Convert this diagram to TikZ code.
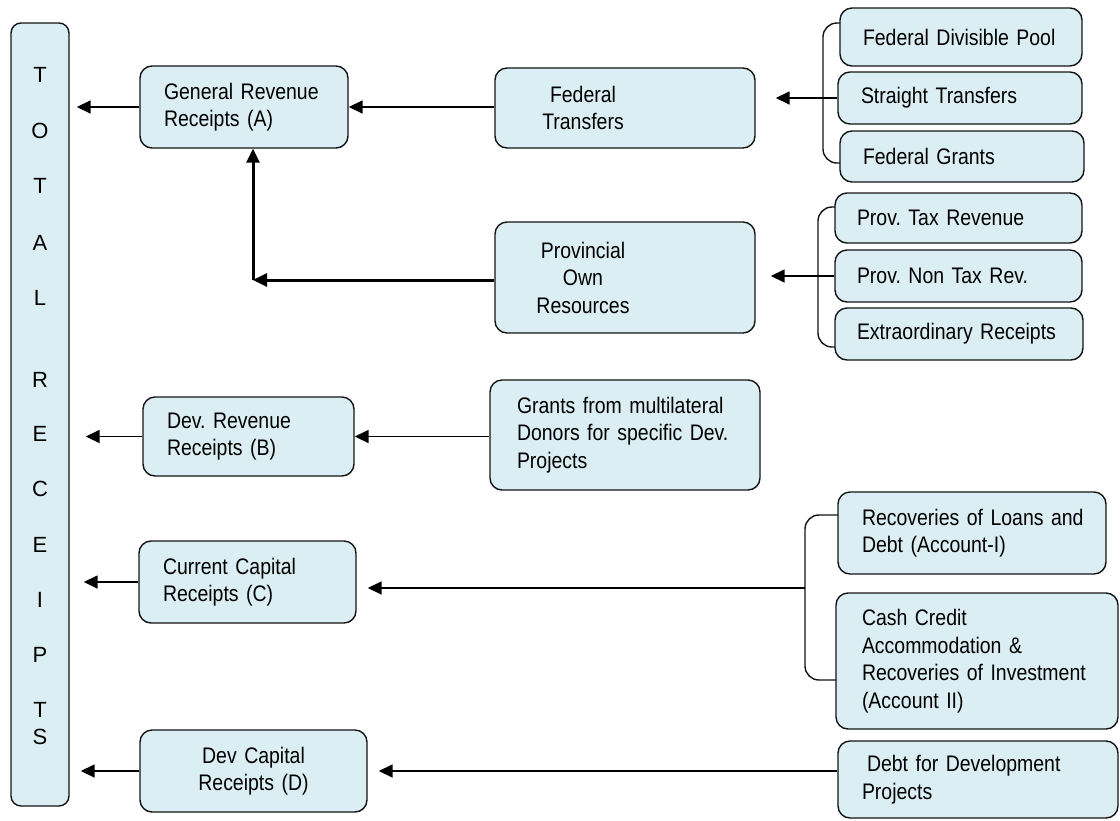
\documentclass[tikz,border=0pt]{standalone}
\usepackage{fontspec}
\setmainfont[FakeStretch=0.865]{Liberation Sans}
\newfontfamily\plainfont{Liberation Sans}
\usetikzlibrary{arrows.meta}
\definecolor{boxfill}{RGB}{219,238,244}
\definecolor{edge}{RGB}{20,20,20}
\frenchspacing
\newcommand{\boxfont}{\fontsize{22.5}{27.5}\selectfont}
\begin{document}
\begin{tikzpicture}[x=1pt,y=-1pt,
  box/.style={draw=edge, fill=boxfill, line width=1.4pt, rounded corners=12pt,
    inner ysep=0pt, font=\boxfont, align=left},
  letter/.style={inner sep=0pt, font=\plainfont\fontsize{22}{24}\selectfont},
  arr/.style={draw=black, line width=1.6pt, -{Triangle[length=14pt,width=13pt]}},
  thickarr/.style={arr, line width=3pt},
  brace/.style={draw=edge, line width=1.4pt, rounded corners=14pt}]
\fill[white] (0,0) rectangle (1120,820);
\useasboundingbox (0,0) rectangle (1120,820);

% TOTAL RECEIPTS column
\node[box, rounded corners=10pt, minimum height=783pt, text width=50pt, inner xsep=4pt] (total) at (40,414.5) {};
\foreach \l/\y [count=\i] in {T/75,O/131,T/186,A/243,L/298,R/380,E/434,C/489,E/545,I/600,P/655,T/710,S/737}
  \node[letter] (t\i) at (40,\y) {\l};

% left column
\node[box, minimum height=82pt, text width=160pt, inner xsep=24pt] (grr) at (244,107) {General Revenue\\Receipts (A)};
\node[box, minimum height=79pt, text width=163pt, inner xsep=24pt] (drr) at (248.5,436.5) {Dev. Revenue\\Receipts (B)};
\node[box, minimum height=82pt, text width=169pt, inner xsep=24pt] (ccr) at (247.5,582) {Current Capital\\Receipts (C)};
\node[box, minimum height=82pt, text width=207pt, inner xsep=10pt, align=center] (dcr) at (253.5,771) {Dev Capital\\Receipts (D)};

% middle column
\node[box, minimum height=80pt, text width=240pt, inner xsep=10pt] (ft) at (625,108) {\parbox{156pt}{\centering Federal\\Transfers}};
\node[box, minimum height=111pt, text width=240pt, inner xsep=10pt] (por) at (625,277.5) {\parbox{156pt}{\centering Provincial\\Own\\Resources}};
\node[box, minimum height=110pt, text width=216pt, inner xsep=27pt] (grants) at (625,435) {Grants from multilateral\\Donors for specific Dev.\\Projects};

% right column
\node[box, minimum height=58pt, text width=196pt, inner xsep=23pt] (fdp) at (961,37) {Federal Divisible Pool};
\node[box, minimum height=52pt, text width=198pt, inner xsep=23pt] (st) at (960,98) {Straight Transfers};
\node[box, minimum height=51pt, text width=198pt, inner xsep=23pt] (fg) at (962,156.5) {Federal Grants};
\node[box, minimum height=50pt, text width=203pt, inner xsep=22pt] (ptr) at (958.5,218) {Prov. Tax Revenue};
\node[box, minimum height=52pt, text width=203pt, inner xsep=22pt] (pntr) at (958.5,276) {Prov. Non Tax Rev.};
\node[box, minimum height=52pt, text width=204pt, inner xsep=22pt] (er) at (959,334) {Extraordinary Receipts};
\node[box, minimum height=82pt, text width=230pt, inner xsep=19pt] (rec) at (972,533) {\hspace*{5pt}Recoveries of Loans and\\\hspace*{5pt}Debt (Account-I)};
\node[box, minimum height=136pt, text width=230pt, inner xsep=26pt] (cash) at (977,661) {Cash Credit\\Accommodation \&\\Recoveries of Investment\\(Account II)};
\node[box, minimum height=77pt, text width=232pt, inner xsep=24pt] (debt) at (978,779.5) {\hspace*{5pt}Debt for Development\\Projects};

% brackets
\coordinate (bA1) at (840,23);  \coordinate (bA2) at (840,163);
\coordinate (bB1) at (835,207); \coordinate (bB2) at (835,347);
\coordinate (bC1) at (838,515); \coordinate (bC2) at (836,680);
\coordinate (bC) at (805,588);
\draw[brace] (bA1) -- (823,23) -- (823,163) -- (bA2);
\draw[brace] (bB1) -- (818,207) -- (818,347) -- (bB2);
\draw[brace] (bC1) -- (805,515) -- (805,680) -- (bC2);

% arrows into middle / left column
\draw[arr, shorten >=20pt] (st.west) -- (st.west -| ft.east);
\draw[arr, shorten >=15pt] (pntr.west) -- (pntr.west -| por.east);
\draw[arr] (ft.west |- grr.east) -- (grr.east);
\coordinate (corner) at (253,280);
\draw[thickarr] (por.west |- corner) -- (corner);
\draw[thickarr] (corner) -- (corner |- grr.south);
\draw[arr] (grants.west |- drr.east) -- (drr.east);
\draw[arr, shorten >=11pt] (bC) -- (bC -| ccr.east);
\draw[arr, shorten >=11pt] (debt.west |- dcr.east) -- (dcr.east);

% arrows to total
\draw[arr, shorten >=7pt] (grr.west) -- (grr.west -| total.east);
\draw[arr, shorten >=16pt] (drr.west) -- (drr.west -| total.east);
\draw[arr, shorten >=14pt] (ccr.west) -- (ccr.west -| total.east);
\draw[arr, shorten >=11pt] (dcr.west) -- (dcr.west -| total.east);
\end{tikzpicture}
\end{document}
